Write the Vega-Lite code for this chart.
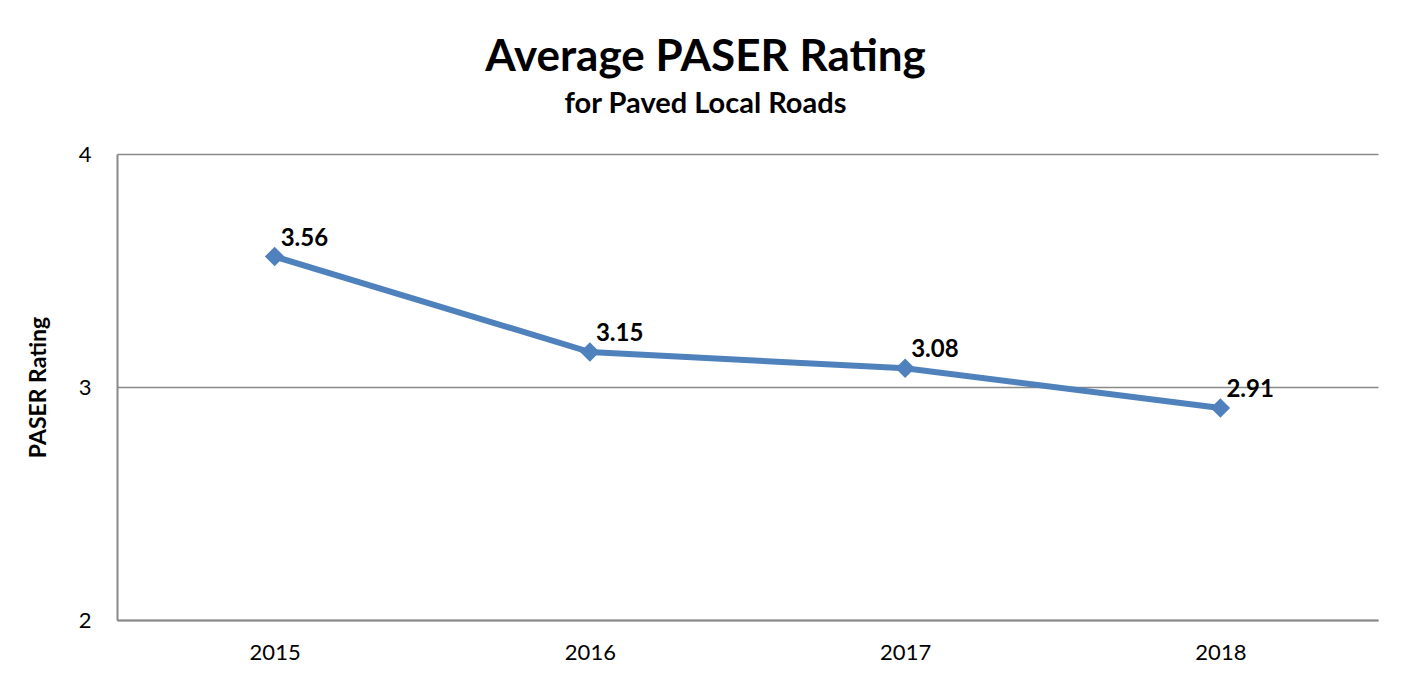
{
  "$schema": "https://vega.github.io/schema/vega-lite/v6.json",
  "autosize": "none",
  "width": 1261,
  "height": 466,
  "padding": {"left": 117, "top": 154, "right": 31, "bottom": 66},
  "background": "white",
  "config": {"view": {"stroke": null}, "font": "Lato"},
  "title": {
    "text": "Average PASER Rating",
    "subtitle": "for Paved Local Roads",
    "anchor": "middle",
    "dx": -42,
    "offset": 24,
    "fontSize": 44,
    "fontWeight": "bold",
    "color": "black",
    "subtitleFontSize": 29,
    "subtitleFontWeight": "bold",
    "subtitleColor": "black",
    "subtitlePadding": 10
  },
  "data": {
    "values": [
      {"year": "2015", "rating": 3.56},
      {"year": "2016", "rating": 3.15},
      {"year": "2017", "rating": 3.08},
      {"year": "2018", "rating": 2.91}
    ]
  },
  "encoding": {
    "x": {
      "field": "year",
      "type": "ordinal",
      "scale": {"type": "point", "padding": 0.5},
      "axis": {
        "title": null,
        "labelAngle": 0,
        "labelFontSize": 22,
        "labelColor": "black",
        "labelPadding": 22,
        "ticks": false,
        "domainColor": "#898989",
        "domainWidth": 2,
        "grid": false
      }
    },
    "y": {
      "field": "rating",
      "type": "quantitative",
      "scale": {"domain": [2, 4], "nice": false, "zero": false},
      "axis": {
        "title": "PASER Rating",
        "titleFontSize": 23,
        "titleFontWeight": "bold",
        "titleColor": "black",
        "titlePadding": 28,
        "values": [2, 3, 4],
        "labelExpr": "format(datum.value, '.0f')",
        "labelOverlap": false,
        "labelFontSize": 22,
        "labelColor": "black",
        "labelPadding": 26,
        "ticks": false,
        "domainColor": "#898989",
        "domainWidth": 2,
        "grid": true,
        "gridColor": "#898989",
        "gridWidth": 1.5
      }
    }
  },
  "layer": [
    {
      "mark": {"type": "line", "color": "#4F81BD", "strokeWidth": 6}
    },
    {
      "mark": {"type": "point", "shape": "diamond", "filled": true, "color": "#4F81BD", "size": 380, "opacity": 1}
    },
    {
      "mark": {"type": "text", "align": "left", "baseline": "middle", "dx": 6, "dy": -18, "fontSize": 24, "fontWeight": "bold", "color": "black"},
      "encoding": {"text": {"field": "rating", "type": "quantitative", "format": ".2f"}}
    }
  ]
}
